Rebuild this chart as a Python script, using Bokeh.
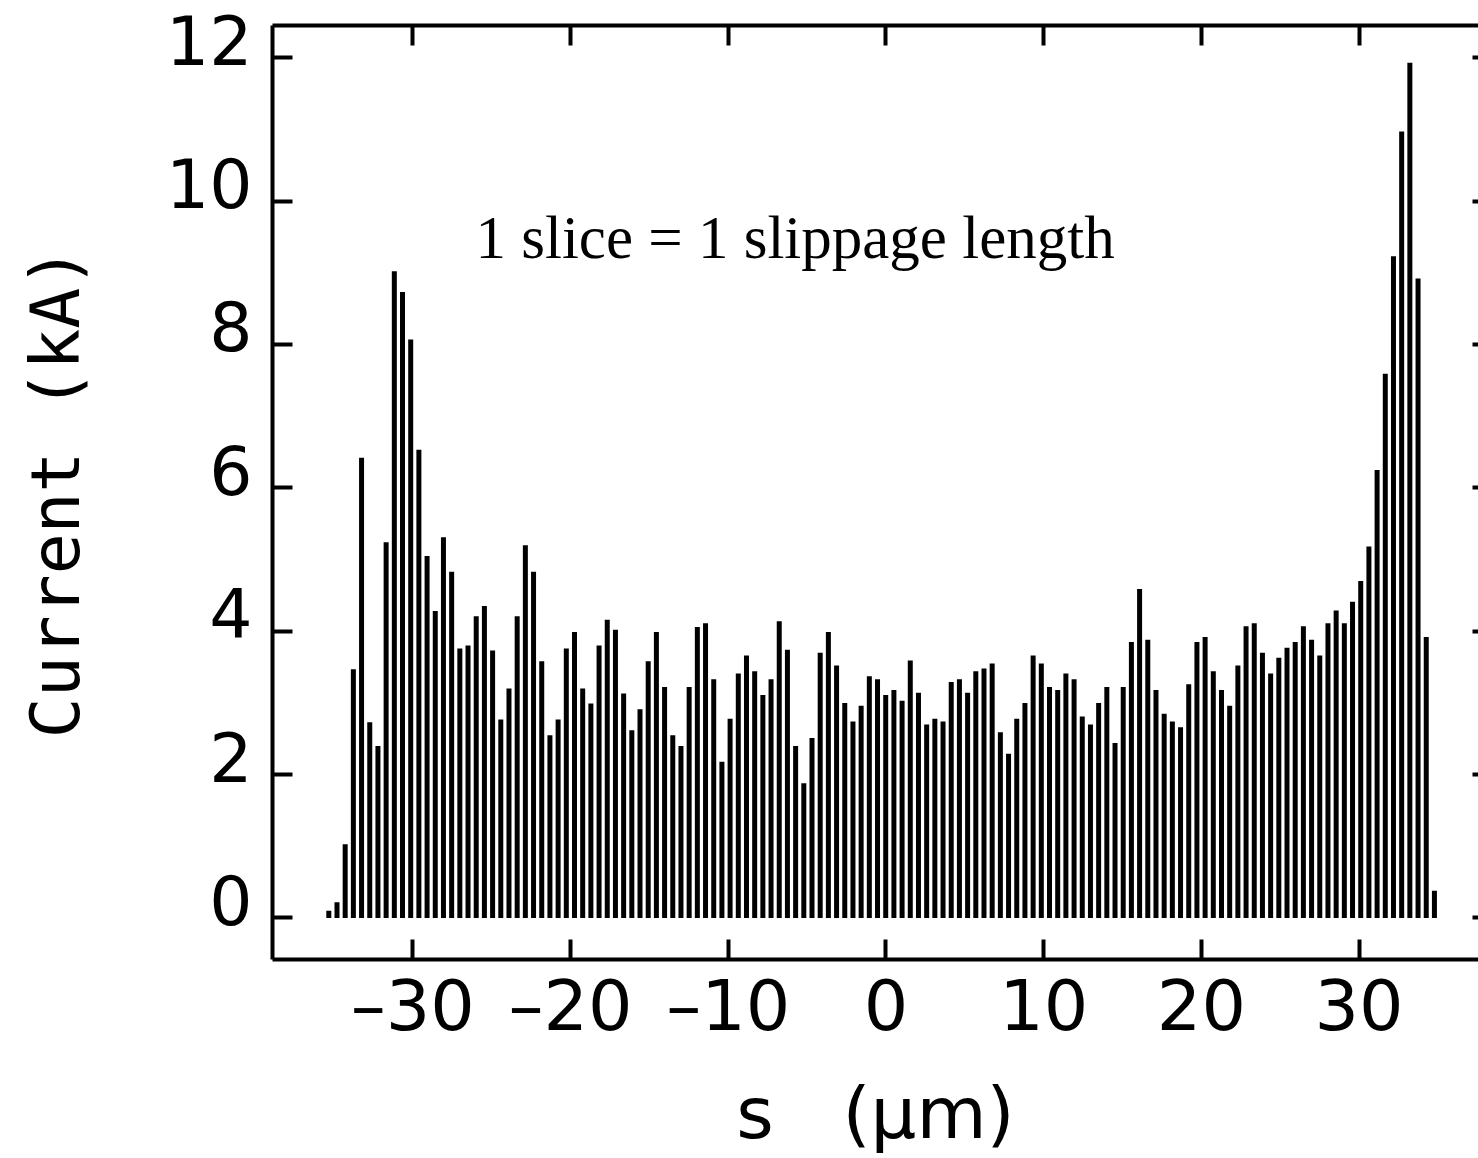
import numpy as np
from bokeh.plotting import figure
from bokeh.models import Range1d, LinearAxis, FixedTicker, Label
from bokeh.embed import file_html
from bokeh.resources import INLINE

# ---- data ----
current_kA = [
    0.10, 0.22, 1.03, 3.47, 6.42, 2.73, 2.40, 5.24, 9.02, 8.73,
    8.07, 6.53, 5.05, 4.28, 5.31, 4.83, 3.76, 3.80, 4.21, 4.35,
    3.73, 2.77, 3.20, 4.21, 5.20, 4.83, 3.58, 2.55, 2.77, 3.76,
    3.99, 3.20, 2.99, 3.80, 4.16, 4.02, 3.13, 2.62, 2.91, 3.58,
    3.99, 3.22, 2.55, 2.40, 3.22, 4.06, 4.11, 3.33, 2.18, 2.78,
    3.41, 3.66, 3.44, 3.11, 3.33, 4.14, 3.74, 2.40, 1.88, 2.51,
    3.70, 3.99, 3.52, 3.00, 2.74, 2.96, 3.37, 3.33, 3.11, 3.18,
    3.03, 3.59, 3.14, 2.70, 2.78, 2.74, 3.29, 3.33, 3.14, 3.44,
    3.48, 3.55, 2.59, 2.29, 2.78, 3.00, 3.66, 3.55, 3.22, 3.18,
    3.41, 3.33, 2.81, 2.70, 3.00, 3.22, 2.44, 3.22, 3.85, 4.59,
    3.88, 3.18, 2.85, 2.74, 2.66, 3.26, 3.85, 3.92, 3.44, 3.18,
    2.96, 3.52, 4.07, 4.11, 3.70, 3.41, 3.63, 3.77, 3.85, 4.07,
    3.88, 3.66, 4.11, 4.29, 4.11, 4.41, 4.70, 5.18, 6.25, 7.59,
    9.23, 10.97, 11.93, 8.92, 3.92, 0.38,
]
first_slice_um = -35.33      # centre of first slice
slice_length_um = 0.5193     # 1 slice = 1 slippage length
s_um = first_slice_um + slice_length_um * np.arange(len(current_kA))

x_ticks = [-30, -20, -10, 0, 10, 20, 30]
x_tick_labels = ["\u201330", "\u201320", "\u201310", "0", "10", "20", "30"]
y_ticks = [0, 2, 4, 6, 8, 10, 12]
y_tick_labels = ["0", "2", "4", "6", "8", "10", "12"]

x_start, x_end = -38.90, 37.57
y_start, y_end = -0.579, 12.448
label_shift = 0.25   # tick labels sit slightly above their ticks in the reference

TICK_FONT = "DejaVu Sans"
TITLE_FONT = "DejaVu Sans Mono"

p = figure(width=1478, height=1158,
           x_range=Range1d(x_start, x_end), y_range=Range1d(y_start, y_end),
           output_backend="svg", toolbar_location=None,
           min_border_left=272, min_border_right=0,
           min_border_top=25, min_border_bottom=199)
p.extra_y_ranges = {"lbl": Range1d(y_start - label_shift, y_end - label_shift)}
p.add_layout(LinearAxis(), "above")
p.add_layout(LinearAxis(), "right")
p.grid.visible = False
p.outline_line_color = None
p.background_fill_color = "white"
p.border_fill_color = "white"

tick_axes = list(p.xaxis) + list(p.yaxis)
for ax in list(p.xaxis):
    ax.ticker = FixedTicker(ticks=x_ticks)
for ax in list(p.yaxis):
    ax.ticker = FixedTicker(ticks=y_ticks)
for ax in tick_axes:
    ax.major_tick_in = 20
    ax.major_tick_out = 0
    ax.minor_tick_line_color = None
    ax.major_tick_line_width = 4
    ax.major_tick_line_color = "black"
    ax.axis_line_width = 4
    ax.axis_line_color = "black"

# axes that carry only ticks
for ax in [p.above[0], p.right[0], p.left[0]]:
    ticks = x_ticks if ax in p.above else y_ticks
    ax.major_label_overrides = {t: "" for t in ticks}
    ax.major_label_standoff = 0
    ax.major_label_text_color = None
    ax.major_label_text_font_size = "1px"
p.right[0].axis_line_color = None
p.right[0].major_tick_in = 6

# bottom axis: ticks + labels + title
bottom = p.below[0]
bottom.major_label_overrides = dict(zip(x_ticks, x_tick_labels))
bottom.major_label_text_font = TICK_FONT
bottom.major_label_text_font_size = "70px"
bottom.major_label_text_color = "black"
bottom.major_label_standoff = 5
bottom.axis_label = "s\u00a0\u00a0\u00a0(\u03bcm)"
bottom.axis_label_text_font = "DejaVu Sans"
bottom.axis_label_text_font_size = "72px"
bottom.axis_label_text_font_style = "normal"
bottom.axis_label_text_color = "black"
bottom.axis_label_standoff = 21

# left label axis (shifted range so labels sit just above the ticks)
lbl_axis = LinearAxis(y_range_name="lbl", ticker=FixedTicker(ticks=y_ticks),
                      major_label_overrides=dict(zip(y_ticks, y_tick_labels)),
                      axis_line_color=None, major_tick_line_color=None,
                      minor_tick_line_color=None,
                      major_tick_in=0, major_tick_out=0,
                      major_label_standoff=20,
                      major_label_text_font=TICK_FONT,
                      major_label_text_font_size="68px",
                      major_label_text_color="black",
                      axis_label="Current (kA)",
                      axis_label_text_font=TITLE_FONT,
                      axis_label_text_font_size="68px",
                      axis_label_text_font_style="normal",
                      axis_label_text_color="black",
                      axis_label_standoff=68)
p.add_layout(lbl_axis, "left")

# bars
p.vbar(x=s_um, top=current_kA, bottom=0, width=0.317,
       fill_color="black", line_color=None)

# annotation
p.add_layout(Label(x=-26.03, y=9.49, text="1 slice = 1 slippage length",
                   text_font="Liberation Serif", text_font_size="61px",
                   text_align="left", text_baseline="alphabetic",
                   text_color="black"))

open("out.html", "w").write(file_html(p, INLINE))
